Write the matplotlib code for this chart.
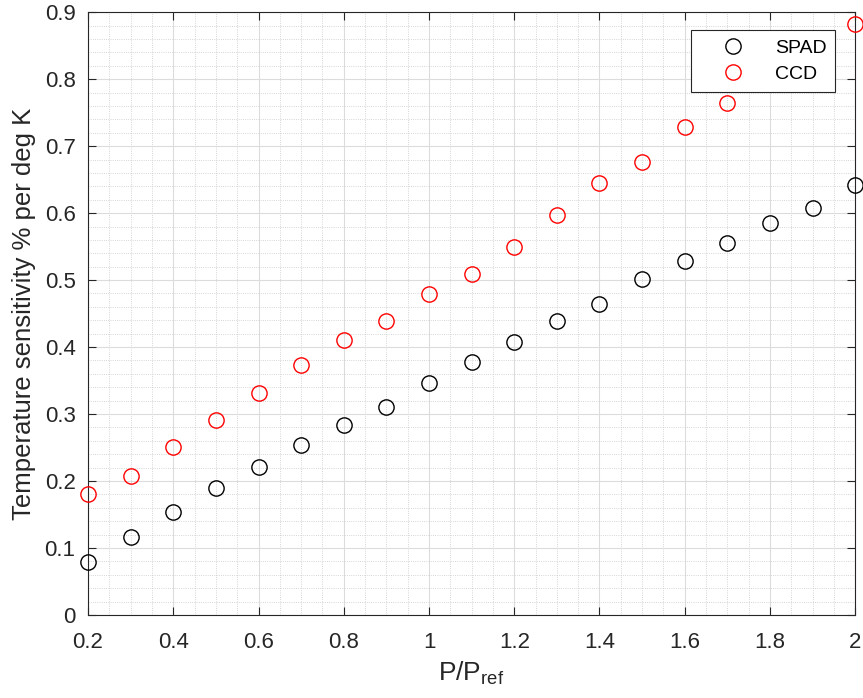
import matplotlib
matplotlib.use("Agg")
import matplotlib.pyplot as plt
from matplotlib.ticker import MultipleLocator

plt.rcParams['font.family'] = ['Liberation Sans', 'DejaVu Sans']
plt.rcParams['mathtext.fontset'] = 'custom'
plt.rcParams['mathtext.rm'] = 'Liberation Sans'

# P/Pref values
p_ratio = [0.2, 0.3, 0.4, 0.5, 0.6, 0.7, 0.8, 0.9, 1.0, 1.1,
           1.2, 1.3, 1.4, 1.5, 1.6, 1.7, 1.8, 1.9, 2.0]

# temperature sensitivity, % per deg K
spad = [0.079, 0.117, 0.153, 0.190, 0.221, 0.254, 0.284, 0.310, 0.346, 0.377,
        0.408, 0.439, 0.464, 0.502, 0.528, 0.556, 0.585, 0.608, 0.642]
# 1.8 and 1.9 sit behind the legend box
ccd = [0.180, 0.207, 0.251, 0.291, 0.331, 0.373, 0.410, 0.439, 0.479, 0.509,
       0.549, 0.597, 0.645, 0.677, 0.729, 0.764, 0.805, 0.840, 0.882]

xticks = [0.2, 0.4, 0.6, 0.8, 1.0, 1.2, 1.4, 1.6, 1.8, 2.0]
xtick_labels = ['0.2', '0.4', '0.6', '0.8', '1', '1.2', '1.4', '1.6', '1.8', '2']
yticks = [0, 0.1, 0.2, 0.3, 0.4, 0.5, 0.6, 0.7, 0.8, 0.9]
ytick_labels = ['0', '0.1', '0.2', '0.3', '0.4', '0.5', '0.6', '0.7', '0.8', '0.9']

fig = plt.figure(figsize=(8.63, 6.98), dpi=100)
ax = fig.add_axes([0.102, 0.119, 0.889, 0.8635])

ax.plot(p_ratio, spad, 'o', ms=11, mfc='none', mec='k', mew=1.0,
        label='SPAD', clip_on=False, zorder=3)
ax.plot(p_ratio, ccd, 'o', ms=11, mfc='none', mec='r', mew=1.0,
        label='CCD', clip_on=False, zorder=3)

ax.set_xlim(0.2, 2)
ax.set_ylim(0, 0.9)
ax.set_xticks(xticks)
ax.set_xticklabels(xtick_labels)
ax.set_yticks(yticks)
ax.set_yticklabels(ytick_labels)
ax.xaxis.set_minor_locator(MultipleLocator(0.05))
ax.yaxis.set_minor_locator(MultipleLocator(0.02))

ax.grid(True, which='major', color='#dcdcdc', lw=0.8, ls='-')
ax.grid(True, which='minor', color='#c8c8c8', lw=0.6, ls=':')
ax.set_axisbelow(True)

ax.tick_params(which='major', direction='in', length=6, width=0.8,
               top=True, right=True, labelsize=16, colors='#262626',
               labelcolor='#262626')
ax.tick_params(axis='x', which='major', pad=12)
ax.tick_params(axis='y', which='major', pad=9)
ax.tick_params(which='minor', length=0, top=True, right=True)
for s in ax.spines.values():
    s.set_color('#262626')
    s.set_linewidth(0.8)

ax.set_xlabel(r'P/P$_{\rm ref}$', fontsize=19, color='#262626', labelpad=5)
ax.set_ylabel('Temperature sensitivity % per deg K', fontsize=18.5,
              color='#262626', labelpad=6)

leg = ax.legend(loc='upper right', bbox_to_anchor=(0.974, 0.970), fontsize=14,
                frameon=True, fancybox=False, edgecolor='#262626', framealpha=1,
                handlelength=3.4, handletextpad=0.45, borderpad=0.45,
                labelspacing=0.45, borderaxespad=0)
leg.get_frame().set_linewidth(0.8)
leg.set_zorder(5)

fig.savefig('out.png', dpi=100)
